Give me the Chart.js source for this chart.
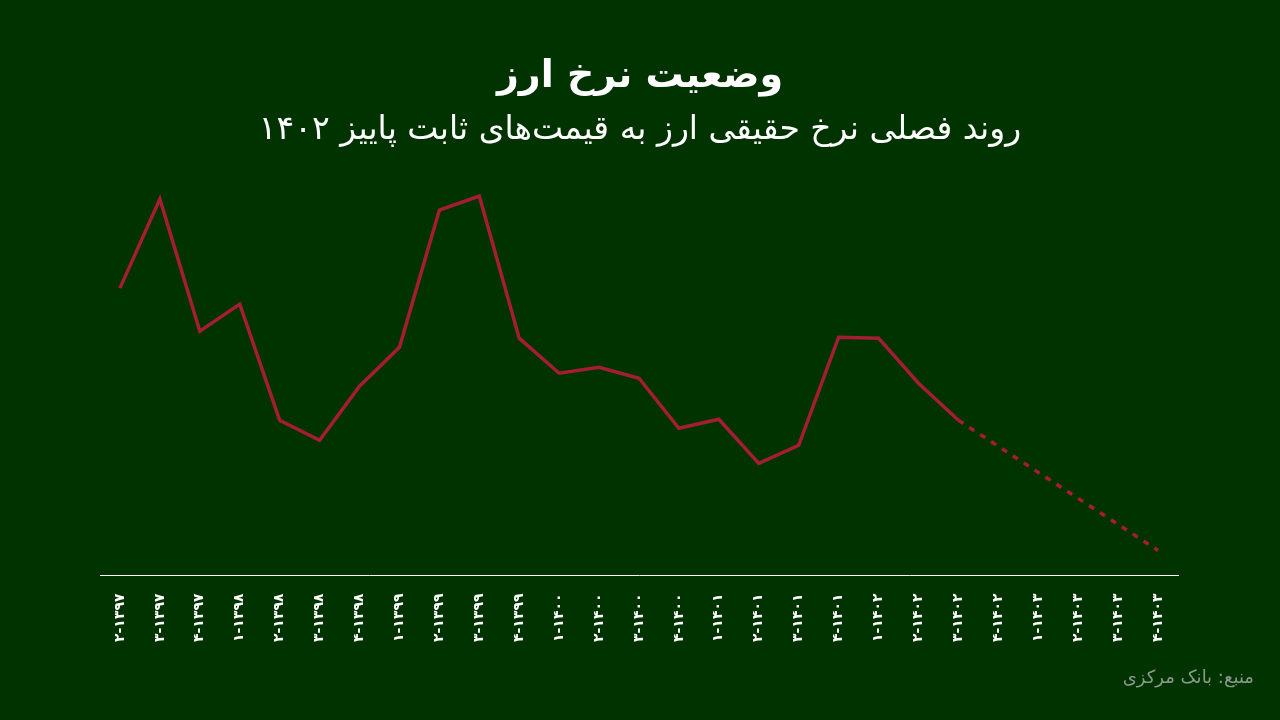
<!DOCTYPE html>
<html>
<head>
<meta charset="utf-8">
<script src="https://cdn.jsdelivr.net/npm/chart.js@4"></script>
<style>
  body { margin: 0; background: #003300; width: 1280px; height: 720px; overflow: hidden; font-family: "DejaVu Sans", sans-serif; }
  #wrap { position: absolute; left: 0; top: 0; width: 1280px; height: 720px; }
  .title { position: absolute; width: 1280px; text-align: center; color: #fff; direction: rtl; }
  #t1 { top: 52px; font-size: 38px; font-weight: bold; }
  #t2 { top: 108px; font-size: 33px; }
  #src { position: absolute; right: 26px; top: 666px; color: #8a9a8a; font-size: 18px; direction: rtl; }
</style>
</head>
<body>
<div id="wrap"><canvas id="chart" width="1280" height="720"></canvas></div>
<div class="title" id="t1">وضعیت نرخ ارز</div>
<div class="title" id="t2">روند فصلی نرخ حقیقی ارز به قیمت‌های ثابت پاییز ۱۴۰۲</div>
<div id="src">منبع: بانک مرکزی</div>
<script>
const quarters = [
  '۲-۱۳۹۷', '۳-۱۳۹۷', '۴-۱۳۹۷', '۱-۱۳۹۸', '۲-۱۳۹۸', '۳-۱۳۹۸', '۴-۱۳۹۸',
  '۱-۱۳۹۹', '۲-۱۳۹۹', '۳-۱۳۹۹', '۴-۱۳۹۹', '۱-۱۴۰۰', '۲-۱۴۰۰', '۳-۱۴۰۰',
  '۴-۱۴۰۰', '۱-۱۴۰۱', '۲-۱۴۰۱', '۳-۱۴۰۱', '۴-۱۴۰۱', '۱-۱۴۰۲', '۲-۱۴۰۲',
  '۳-۱۴۰۲', '۴-۱۴۰۲', '۱-۱۴۰۳', '۲-۱۴۰۳', '۳-۱۴۰۳', '۴-۱۴۰۳'
];
const rateValues = [
  287, 376, 244, 271, 155, 135, 189, 228, 365, 379, 237, 202, 208, 197,
  147, 156, 112, 130, 238, 237, 192, 155, 129, 103, 77, 51, 25
];
const lastActualIndex = 21; // after this point the line is a projection

new Chart(document.getElementById('chart'), {
  type: 'line',
  data: {
    labels: quarters,
    datasets: [{
      data: rateValues,
      borderColor: '#a41d33',
      borderWidth: 3.5,
      pointRadius: 0,
      tension: 0,
      segment: {
        borderDash: ctx => ctx.p0DataIndex >= lastActualIndex ? [6, 7] : undefined
      }
    }]
  },
  options: {
    responsive: false,
    animation: false,
    layout: { padding: { top: 180, left: 100, right: 102, bottom: 60 } },
    plugins: { legend: { display: false }, tooltip: { enabled: false } },
    scales: {
      y: { display: false, min: 0, max: 395 },
      x: {
        offset: true,
        grid: { display: false, drawTicks: false },
        border: { color: '#ffffff', width: 1 },
        ticks: {
          color: '#ffffff',
          font: { family: 'DejaVu Sans', size: 14, weight: 'bold' },
          minRotation: 90,
          maxRotation: 90,
          padding: 18,
          autoSkip: false
        }
      }
    }
  }
});
</script>
</body>
</html>
